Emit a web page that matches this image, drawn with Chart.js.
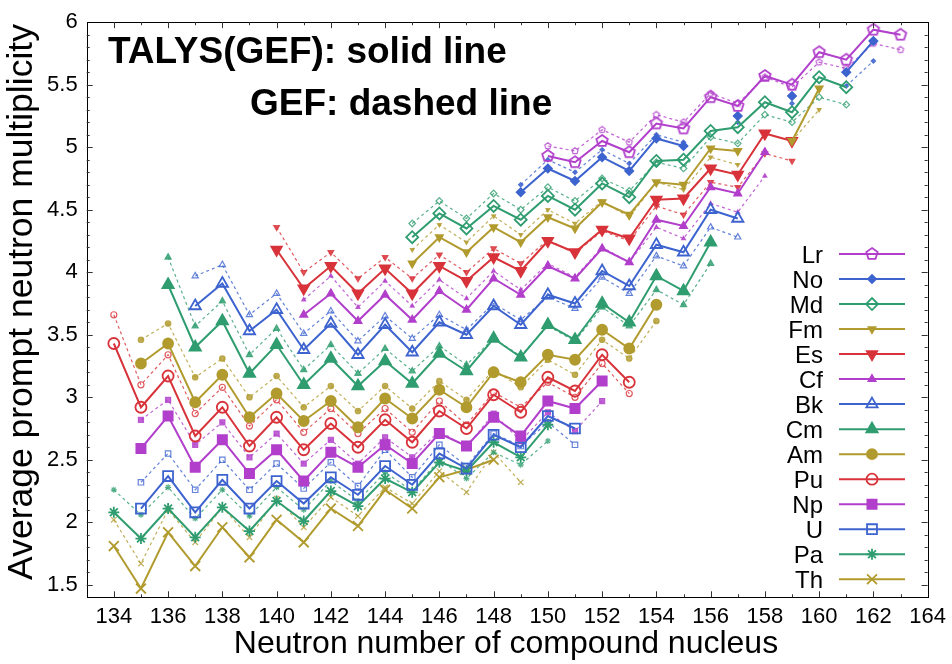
<!DOCTYPE html>
<html><head><meta charset="utf-8">
<script src="https://cdn.jsdelivr.net/npm/chart.js@4.4.0/dist/chart.umd.min.js"></script>
<style>html,body{margin:0;padding:0;background:#fff;}#wrap{width:952px;height:664px;}</style>
</head><body><div id="wrap"><canvas id="c" width="952" height="664"></canvas></div>
<script>
// ---------- data ----------
const neutronNumbers = [134,135,136,137,138,139,140,141,142,143,144,145,146,147,148,149,150,151,152,153,154,155,156,157,158,159,160,161,162,163];
const xTickLabels = [134,136,138,140,142,144,146,148,150,152,154,156,158,160,162,164];
const yTickLabels = [1.5,2,2.5,3,3.5,4,4.5,5,5.5,6];
const elementNames = ['Lr','No','Md','Fm','Es','Cf','Bk','Cm','Am','Pu','Np','U','Pa','Th'];
const n = null;
// TALYS(GEF) (solid) and GEF (dashed)
const talysLr = [n,n,n,n,n,n,n,n,n,n,n,n,n,n,n,n,4.93,4.88,5.05,4.96,5.19,5.15,5.40,5.33,5.57,5.50,5.76,5.70,5.94,5.90];
const gefLr   = [n,n,n,n,n,n,n,n,n,n,n,n,n,n,n,n,5.01,4.97,5.14,5.04,5.26,5.20,5.43,5.35,5.56,5.48,5.68,5.63,5.83,5.78];
const talysNo = [n,n,n,n,n,n,n,n,n,n,n,n,n,n,n,4.64,4.83,4.73,4.92,4.81,5.07,5.01,n,5.25,n,5.41,n,5.60,5.85,n];
const gefNo   = [n,n,n,n,n,n,n,n,n,n,n,n,n,n,n,4.70,4.90,4.80,4.98,4.87,5.10,5.04,n,5.20,n,5.35,n,5.49,5.69,n];
const talysMd = [n,n,n,n,n,n,n,n,n,n,n,4.28,4.47,4.35,4.53,4.42,4.61,4.50,4.71,4.60,4.89,4.90,5.13,5.16,5.36,5.28,5.56,5.48,n,n];
const gefMd   = [n,n,n,n,n,n,n,n,n,n,n,4.39,4.57,4.43,4.63,4.50,4.68,4.57,4.75,4.65,4.88,4.83,5.08,5.03,5.26,5.20,5.40,5.34,n,n];
const talysFm = [n,n,n,n,n,n,n,n,n,n,n,4.07,4.28,4.16,4.36,4.24,4.44,4.35,4.56,4.46,4.72,4.70,4.99,4.97,n,5.05,5.47,n,n,n];
const gefFm   = [n,n,n,n,n,n,n,n,n,n,n,4.18,4.38,4.24,4.45,4.30,4.50,4.39,4.57,4.44,4.72,4.66,4.92,4.86,n,5.05,5.30,n,n,n];
const talysEs = [n,n,n,n,n,n,4.18,3.87,4.05,3.83,4.03,3.83,4.05,3.93,4.12,4.01,4.25,4.16,4.34,4.27,4.58,4.59,4.83,4.78,5.11,5.05,n,n,n,n];
const gefEs   = [n,n,n,n,n,n,4.36,4.00,4.16,3.95,4.12,3.95,4.14,4.00,4.19,4.07,4.26,4.15,4.33,4.25,4.53,4.46,4.72,4.68,4.95,4.89,n,n,n,n];
const talysCf = [n,n,n,n,n,n,n,3.66,3.83,3.61,3.82,3.62,3.85,3.70,3.95,3.82,4.05,3.95,4.19,4.08,4.42,4.37,4.68,4.63,4.96,n,n,n,n,n];
const gefCf   = [n,n,n,n,n,n,n,3.78,3.97,3.72,3.93,3.73,3.94,3.79,4.01,3.86,4.07,3.96,4.20,4.08,4.36,4.27,4.55,4.48,4.77,n,n,n,n,n];
const talysBk = [n,n,n,3.73,3.91,3.53,3.70,3.38,3.59,3.34,3.58,3.36,3.60,3.50,3.73,3.58,3.82,3.75,4.01,3.89,4.22,4.16,4.50,4.43,n,n,n,n,n,n];
const gefBk   = [n,n,n,3.97,4.06,3.66,3.83,3.51,3.69,3.45,3.65,3.47,3.66,3.54,3.75,3.62,3.80,3.71,3.96,3.83,4.13,4.05,4.36,4.28,n,n,n,n,n,n];
const talysCm = [n,n,3.90,3.40,3.61,3.19,3.42,3.10,3.31,3.09,3.29,3.11,3.35,3.21,3.47,3.32,3.58,3.46,3.75,3.60,3.97,3.85,4.24,n,n,n,n,n,n,n];
const gefCm   = [n,n,4.12,3.57,3.77,3.34,3.55,3.22,3.42,3.19,3.39,3.21,3.41,3.26,3.47,3.33,3.57,3.45,3.72,3.57,3.86,3.74,4.07,n,n,n,n,n,n,n];
const talysAm = [n,3.27,3.43,2.96,3.18,2.84,3.03,2.81,2.97,2.76,2.99,2.83,3.06,2.92,3.20,3.12,3.34,3.30,3.54,3.39,3.74,n,n,n,n,n,n,n,n,n];
const gefAm   = [n,3.46,3.59,3.16,3.31,3.00,3.17,2.92,3.09,2.89,3.09,2.91,3.13,2.98,3.22,3.08,3.30,3.18,3.46,3.31,3.61,n,n,n,n,n,n,n,n,n];
const talysPu = [3.43,2.92,3.17,2.69,2.92,2.61,2.84,2.58,2.79,2.60,2.82,2.64,2.89,2.75,3.02,2.88,3.16,3.05,3.34,3.12,n,n,n,n,n,n,n,n,n,n];
const gefPu   = [3.66,3.10,3.34,2.87,3.08,2.77,2.98,2.72,2.91,2.71,2.91,2.72,2.97,2.78,3.04,2.92,3.12,3.00,3.27,3.03,n,n,n,n,n,n,n,n,n,n];
const talysNp = [n,2.59,2.85,2.44,2.66,2.39,2.58,2.33,2.56,2.44,2.62,2.47,2.71,2.61,2.84,2.69,2.97,2.91,3.13,n,n,n,n,n,n,n,n,n,n,n];
const gefNp   = [n,2.82,2.98,2.62,2.80,2.52,2.71,2.47,2.66,2.47,2.68,2.52,2.73,2.60,2.87,2.65,2.88,2.73,2.97,n,n,n,n,n,n,n,n,n,n,n];
const talysU  = [n,2.11,2.37,2.08,2.34,2.11,2.33,2.15,2.36,2.22,2.45,2.30,2.55,2.43,2.70,2.60,2.85,2.75,n,n,n,n,n,n,n,n,n,n,n,n];
const gefU    = [n,2.32,2.55,2.26,2.50,2.26,2.47,2.27,2.48,2.29,2.58,2.36,2.62,2.45,2.71,2.61,2.80,2.62,n,n,n,n,n,n,n,n,n,n,n,n];
const talysPa = [2.08,1.87,2.11,1.88,2.12,1.93,2.17,2.01,2.25,2.13,2.35,2.24,2.48,2.41,2.64,2.52,2.78,n,n,n,n,n,n,n,n,n,n,n,n,n];
const gefPa   = [2.26,2.06,2.28,2.03,2.26,2.05,2.28,2.10,2.33,2.17,2.40,2.25,2.50,2.35,2.56,2.46,2.65,n,n,n,n,n,n,n,n,n,n,n,n,n];
const talysTh = [1.81,1.47,1.92,1.65,1.96,1.72,2.02,1.84,2.11,1.97,2.26,2.11,2.36,2.42,2.50,n,n,n,n,n,n,n,n,n,n,n,n,n,n,n];
const gefTh   = [2.02,1.67,2.10,1.84,2.12,1.88,2.19,1.96,2.20,2.05,2.28,2.15,2.41,2.24,2.56,2.32,n,n,n,n,n,n,n,n,n,n,n,n,n,n];

const talysSeries = [talysLr,talysNo,talysMd,talysFm,talysEs,talysCf,talysBk,talysCm,talysAm,talysPu,talysNp,talysU,talysPa,talysTh];
const gefSeries   = [gefLr,gefNo,gefMd,gefFm,gefEs,gefCf,gefBk,gefCm,gefAm,gefPu,gefNp,gefU,gefPa,gefTh];

// ---------- styles ----------
const PURPLE='#b13fcb', BLUE='#3d63cf', GREEN='#2f9d6f', OLIVE='#b19b2e', RED='#d8333a';
const FONT = "'Liberation Sans', Arial, Helvetica, sans-serif";
function pentagon(color, r, lw){
  const s = Math.ceil(2*r + lw + 2);
  const c = document.createElement('canvas'); c.width = s; c.height = s;
  const g = c.getContext('2d'); g.strokeStyle = color; g.lineWidth = lw; g.beginPath();
  for (let k=0;k<5;k++){ const a=-Math.PI/2 + k*2*Math.PI/5; g.lineTo(s/2 + r*Math.cos(a), s/2 + r*Math.sin(a)); }
  g.closePath(); g.stroke(); return c;
}
// [color, pointStyle, filled, rotation, radius]
const markerStyles = [
  [PURPLE,'pentagon',false,0,6],
  [BLUE,'rectRot',true,0,4],
  [GREEN,'rectRot',false,0,6],
  [OLIVE,'triangle',true,180,4],
  [RED,'triangle',true,180,6],
  [PURPLE,'triangle',true,0,4],
  [BLUE,'triangle',false,0,6.5],
  [GREEN,'triangle',true,0,6.5],
  [OLIVE,'circle',true,0,5],
  [RED,'circle',false,0,5.5],
  [PURPLE,'rect',true,0,6.5],
  [BLUE,'rect',false,0,7],
  [GREEN,'star',false,0,5.5],
  [OLIVE,'crossRot',false,0,7]
];
function alpha(hex,a){const v=parseInt(hex.slice(1),16);return `rgba(${v>>16},${(v>>8)&255},${v&255},${a})`;}
function makeDataset(values, idx, dashed){
  const [color, style, filled, rot, r] = markerStyles[idx];
  const col = dashed ? alpha(color,0.8) : color;
  const rad = dashed ? r*0.55 : r;
  const ps = style==='pentagon' ? pentagon(col, rad, dashed?1.2:1.8) : style;
  return {
    label: elementNames[idx] + (dashed?' GEF':' TALYS'),
    data: neutronNumbers.map((x,i)=>({x:x, y:values[i]})),
    borderColor: col, borderWidth: dashed?1.2:2, borderDash: dashed?[3,3]:[],
    pointStyle: ps, pointRadius: rad, pointRotation: rot,
    pointBorderColor: col, pointBackgroundColor: filled ? col : 'rgba(0,0,0,0)',
    pointBorderWidth: dashed?1.2:1.8, pointHoverRadius: rad,
    spanGaps:false, fill:false, tension:0
  };
}
const datasets = [];
elementNames.forEach((el,i)=>{ datasets.push(makeDataset(talysSeries[i], i, false)); });
elementNames.forEach((el,i)=>{ datasets.push(makeDataset(gefSeries[i], i, true)); });

const decorPlugin = {
  id:'decor',
  afterDraw(chart){
    const ctx = chart.ctx, a = chart.chartArea, xs = chart.scales.x, ys = chart.scales.y;
    ctx.save();
    // frame
    ctx.strokeStyle = '#000'; ctx.lineWidth = 1;
    ctx.strokeRect(Math.round(a.left)+0.5, Math.round(a.top)+0.5, Math.round(a.right-a.left), Math.round(a.bottom-a.top));
    // ticks (inward, mirrored)
    ctx.strokeStyle = '#333';
    ctx.beginPath();
    for (let v = 134; v <= 163; v++){
      const px = Math.round(xs.getPixelForValue(v))+0.5, L = (v%2===0)?6:3;
      ctx.moveTo(px, a.bottom); ctx.lineTo(px, a.bottom-L);
      ctx.moveTo(px, a.top); ctx.lineTo(px, a.top+L);
    }
    for (let k = 15; k <= 59; k++){
      const v = k/10, py = Math.round(ys.getPixelForValue(v))+0.5, L = (k%5===0)?6:3;
      ctx.moveTo(a.left, py); ctx.lineTo(a.left+L, py);
      ctx.moveTo(a.right, py); ctx.lineTo(a.right-L, py);
    }
    ctx.stroke();
    // axis titles
    ctx.fillStyle = '#000';
    ctx.font = `32px ${FONT}`; ctx.textAlign='center'; ctx.textBaseline='middle';
    ctx.fillText('Neutron number of compound nucleus', 506, 644);
    ctx.font = `35.5px ${FONT}`;
    ctx.save(); ctx.translate(22, 302); ctx.rotate(-Math.PI/2);
    ctx.fillText('Average prompt neutron multiplicity', 0, 0); ctx.restore();
    // annotations
    ctx.font = `bold 37px ${FONT}`; ctx.textAlign='left';
    ctx.fillText('TALYS(GEF): solid line', 108, 53);
    ctx.fillText('GEF: dashed line', 250, 105);
    // legend
    ctx.font = `24px ${FONT}`; ctx.textAlign='right';
    elementNames.forEach((el,i)=>{
      const y = 254 + i*25.02;
      const [color, style, filled, rot, r] = markerStyles[i];
      ctx.fillStyle = '#000'; ctx.fillText(el, 823, y+2);
      ctx.strokeStyle = color; ctx.lineWidth = 2; ctx.setLineDash([]);
      ctx.beginPath(); ctx.moveTo(839, y); ctx.lineTo(905, y); ctx.stroke();
      ctx.fillStyle = filled ? color : 'rgba(0,0,0,0)'; ctx.lineWidth = 1.8;
      const ps = style==='pentagon' ? pentagon(color, r, 1.8) : style;
      Chart.helpers.drawPoint(ctx, {pointStyle: ps, rotation: rot, radius: r, borderWidth: 1.8}, 872, y);
    });
    ctx.restore();
  }
};

new Chart(document.getElementById('c'), {
  type:'line',
  data:{datasets},
  options:{
    responsive:false, animation:false, devicePixelRatio:1,
    layout:{padding:{left:0,right:24.3,top:15,bottom:0}},
    plugins:{legend:{display:false}, tooltip:{enabled:false}},
    scales:{
      x:{type:'linear', min:133, max:164,
        afterFit(s){ s.height = 66.7; },
        afterBuildTicks(s){ s.ticks = xTickLabels.map(v=>({value:v})); },
        grid:{display:false, drawTicks:false}, border:{display:false},
        ticks:{color:'#000', font:{size:22, family:FONT}, padding:6, maxRotation:0, autoSkip:false, callback:v=>String(v)}},
      y:{type:'linear', min:1.4, max:6,
        afterFit(s){ s.width = 86.7; },
        afterBuildTicks(s){ s.ticks = yTickLabels.map(v=>({value:v})); },
        grid:{display:false, drawTicks:false}, border:{display:false},
        ticks:{color:'#000', font:{size:22, family:FONT}, padding:9, autoSkip:false, callback:v=>String(v)}}
    }
  },
  plugins:[decorPlugin]
});
</script></body></html>
